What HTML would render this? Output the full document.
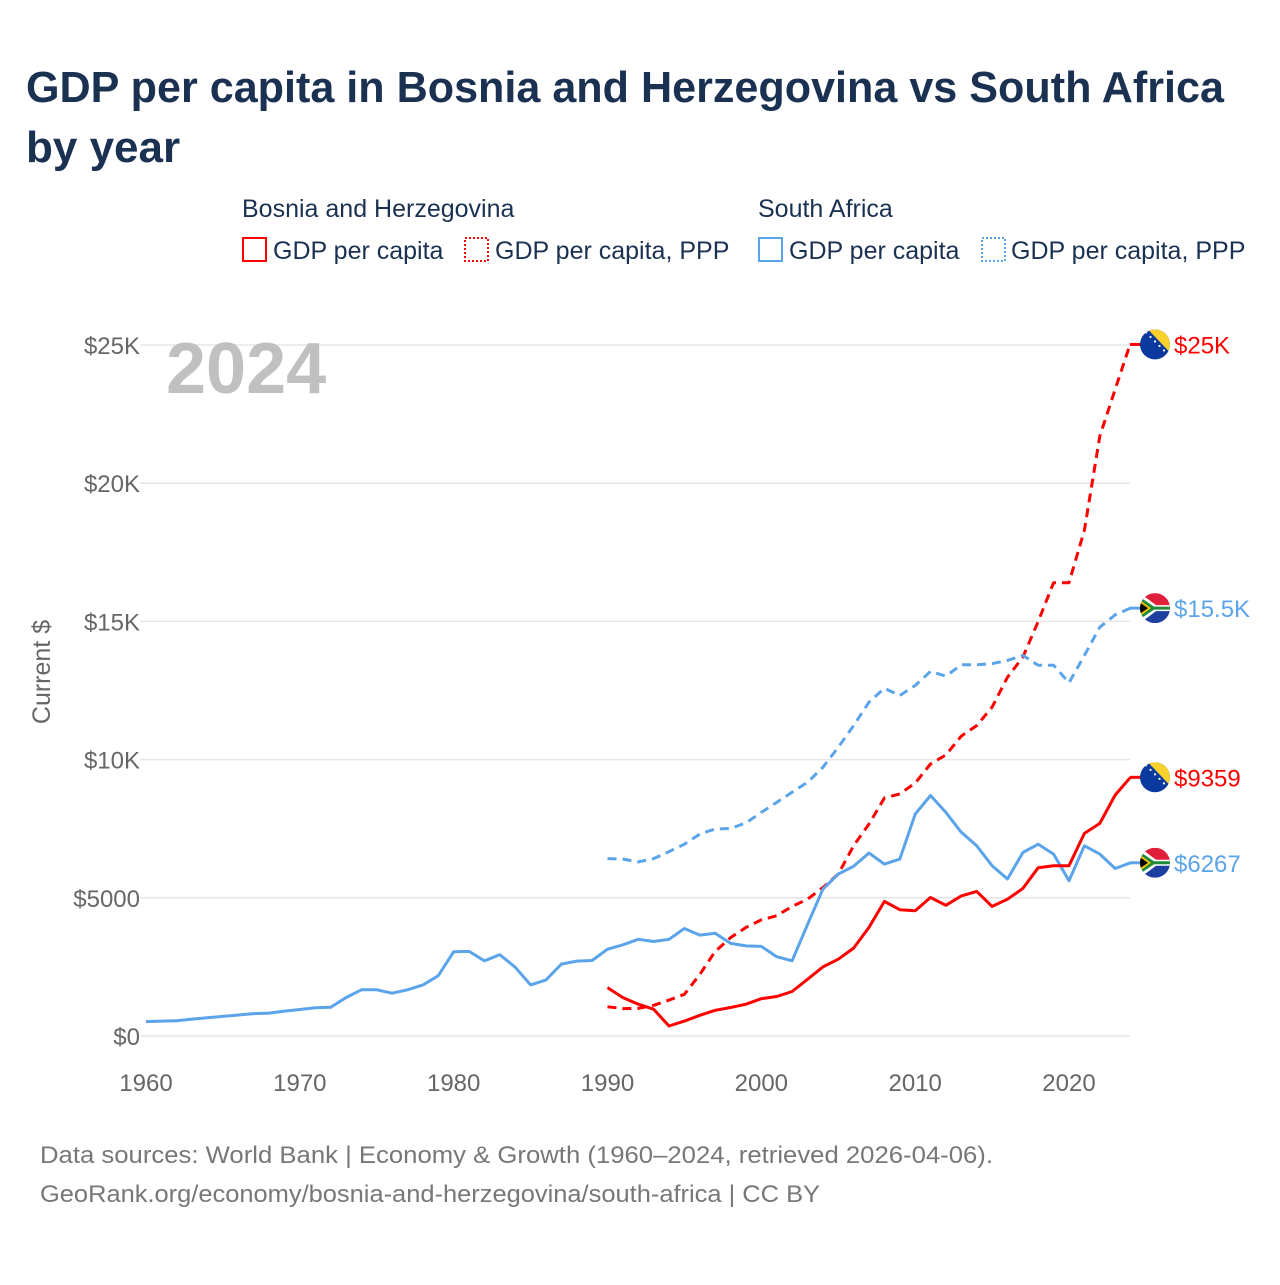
<!DOCTYPE html>
<html><head><meta charset="utf-8"><style>
body{margin:0;background:#fff;font-family:"Liberation Sans",sans-serif;}
svg text{font-family:"Liberation Sans",sans-serif;}
</style></head><body>
<svg id="chart" width="1280" height="1280" viewBox="0 0 1280 1280">
<text x="26" y="102" font-size="44" font-weight="bold" fill="#1b3152" textLength="1198" lengthAdjust="spacingAndGlyphs">GDP per capita in Bosnia and Herzegovina vs South Africa</text>
<text x="26" y="162" font-size="44" font-weight="bold" fill="#1b3152">by year</text>
<g font-size="25" fill="#1b3152">
<text x="242" y="217">Bosnia and Herzegovina</text>
<text x="758" y="217">South Africa</text>
<g><rect x="243" y="238" width="23" height="23" fill="none" stroke="#ff0000" stroke-width="2"/><text x="273" y="259">GDP per capita</text></g>
<g><rect x="465" y="238" width="23" height="23" fill="none" stroke="#ff0000" stroke-width="2" stroke-dasharray="2,2"/><text x="495" y="259">GDP per capita, PPP</text></g>
<g><rect x="759" y="238" width="23" height="23" fill="none" stroke="#5ba4ea" stroke-width="2"/><text x="789" y="259">GDP per capita</text></g>
<g><rect x="982" y="238" width="23" height="23" fill="none" stroke="#5ba4ea" stroke-width="2" stroke-dasharray="2,2"/><text x="1011" y="259">GDP per capita, PPP</text></g>
</g>
<g id="grid"></g>
<text x="166" y="393" font-size="72" font-weight="bold" fill="#c0c0c0">2024</text>
<text transform="translate(50,672) rotate(-90)" text-anchor="middle" font-size="25" fill="#666">Current $</text>
<g id="series"></g>
<g id="ends"></g>
<text x="40" y="1163" font-size="24" fill="#777" textLength="953" lengthAdjust="spacingAndGlyphs">Data sources: World Bank | Economy &amp; Growth (1960–2024, retrieved 2026-04-06).</text>
<text x="40" y="1202" font-size="24" fill="#777" textLength="780" lengthAdjust="spacingAndGlyphs">GeoRank.org/economy/bosnia-and-herzegovina/south-africa | CC BY</text>
</svg>
<script>
const yTicks=[0,5000,10000,15000,20000,25000];
const yTickLabels=["$0","$5000","$10K","$15K","$20K","$25K"];
const xTicks=[1960,1970,1980,1990,2000,2010,2020];
const zaYears=[];for(let y=1960;y<=2024;y++)zaYears.push(y);
const baYears=[];for(let y=1990;y<=2024;y++)baYears.push(y);
const zaGdp=[0.52,0.54,0.55,0.61,0.66,0.71,0.76,0.81,0.83,0.9,0.96,1.02,1.04,1.39,1.67,1.67,1.55,1.67,1.85,2.18,3.05,3.06,2.72,2.94,2.49,1.85,2.03,2.6,2.71,2.73,
3.14,3.3,3.5,3.42,3.5,3.89,3.65,3.72,3.35,3.26,3.24,2.87,2.72,4.03,5.31,5.86,6.14,6.62,6.22,6.4,8.03,8.7,8.09,7.37,6.88,6.16,5.68,6.64,6.94,6.58,5.62,6.88,6.58,6.06,6.267];
const zaPpp=[6.42,6.4,6.3,6.42,6.67,6.94,7.31,7.49,7.51,7.71,8.09,8.45,8.82,9.18,9.72,10.45,11.23,12.08,12.58,12.32,12.68,13.19,13.02,13.43,13.43,13.47,13.59,13.77,13.41,13.41,12.78,13.77,14.79,15.24,15.48];
const baGdp=[1.75,1.39,1.15,0.97,0.36,0.54,0.75,0.93,1.03,1.15,1.35,1.43,1.61,2.05,2.5,2.78,3.18,3.93,4.87,4.57,4.53,5.01,4.73,5.07,5.23,4.69,4.95,5.34,6.09,6.16,6.16,7.33,7.69,8.72,9.359];
const baPpp=[1.06,0.99,1.0,1.11,1.3,1.51,2.23,3.06,3.56,3.93,4.2,4.35,4.69,4.95,5.37,5.86,6.88,7.67,8.61,8.76,9.15,9.84,10.17,10.85,11.23,11.9,12.98,13.71,15.0,16.4,16.4,18.3,21.7,23.4,25.07];
const NS="http://www.w3.org/2000/svg";
const X=yr=>146+(yr-1960)*(1069-146)/60;
const Y=v=>1036-v*(1036-345)/25000;
function mk(t,a,p){const e=document.createElementNS(NS,t);for(const k in a)e.setAttribute(k,a[k]);p.appendChild(e);return e;}
const grid=document.getElementById('grid');
yTicks.forEach((v,i)=>{
 const l=mk('line',{x1:140,x2:1130,y1:Y(v),y2:Y(v),stroke:'#e6e6e6','stroke-width':1.5},grid);
 
 
 const t=mk('text',{x:140,y:Y(v)+9,'text-anchor':'end','font-size':24,fill:'#666'},grid);t.textContent=yTickLabels[i];
 
 
});
xTicks.forEach(yr=>{
 const t=mk('text',{x:X(yr),y:1091,'text-anchor':'middle','font-size':24,fill:'#666'},grid);t.textContent=yr;
 
 
});
const ser=document.getElementById('series');
function line(years,vals,color,dash,name){
 const d=years.map((y,i)=>(i?'L':'M')+X(y).toFixed(1)+','+Y(vals[i]*1000).toFixed(1)).join('');
 const p=mk('path',{d:d,fill:'none',stroke:color,'stroke-width':3,'stroke-linejoin':'round'},ser);
 if(dash)p.setAttribute('stroke-dasharray','9,6');
 
 
}
line(baYears,baPpp,'#ff0000',true,'line-bih-gdp-ppp');
line(zaYears.slice(30),zaPpp,'#5ba4ea',true,'line-za-gdp-ppp');
line(zaYears,zaGdp,'#5ba4ea',false,'line-za-gdp');
line(baYears,baGdp,'#ff0000',false,'line-bih-gdp');
const ends=document.getElementById('ends');
function end(v,label,color,flag,name){
 const cy=Y(v*1000),cx=1155;
 const g=mk('g',{},ends);
 
 
 mk('line',{x1:1130,x2:1142,y1:cy,y2:cy,stroke:color,'stroke-width':3},g);
 const cp='c'+name;
 const c=mk('clipPath',{id:cp},g);mk('circle',{cx:cx,cy:cy,r:15},c);
 const f=mk('g',{'clip-path':'url(#'+cp+')'},g);
 if(flag==='ba'){
  mk('rect',{x:cx-15,y:cy-15,width:30,height:30,fill:'#0a3a9e'},f);
  mk('polygon',{points:`${cx-7},${cy-15} ${cx+15},${cy-15} ${cx+15},${cy+8}`,fill:'#f9d12a'},f);
  for(let k=0;k<5;k++)mk('circle',{cx:cx-9+k*4.5,cy:cy-12+k*4.5,r:1.1,fill:'#fff'},f);
 }else{
  mk('rect',{x:cx-15,y:cy-15,width:30,height:15,fill:'#e0203a'},f);
  mk('rect',{x:cx-15,y:cy,width:30,height:15,fill:'#1d3fa0'},f);
  mk('polygon',{points:`${cx-15},${cy-15} ${cx+1},${cy-3} ${cx+15},${cy-3} ${cx+15},${cy+3} ${cx+1},${cy+3} ${cx-15},${cy+15}`,fill:'#fff'},f);
  mk('polygon',{points:`${cx-15},${cy-11} ${cx-1},${cy-1.5} ${cx+15},${cy-1.5} ${cx+15},${cy+1.5} ${cx-1},${cy+1.5} ${cx-15},${cy+11}`,fill:'#1e8a3a'},f);
  mk('polygon',{points:`${cx-15},${cy-8} ${cx-4},${cy} ${cx-15},${cy+8}`,fill:'#f5c400'},f);
  mk('polygon',{points:`${cx-15},${cy-5.5} ${cx-7},${cy} ${cx-15},${cy+5.5}`,fill:'#000'},f);
 }
 const t=mk('text',{x:1174,y:cy+9,'font-size':24,fill:color},g);t.textContent=label;
}
end(baPpp[baPpp.length-1]-0.05,'$25K','#ff0000','ba','end-label-bih-ppp');
end(zaPpp[zaPpp.length-1],'$15.5K','#5ba4ea','za','end-label-za-ppp');
end(baGdp[baGdp.length-1],'$9359','#ff0000','ba','end-label-bih-gdp');
end(zaGdp[zaGdp.length-1],'$6267','#5ba4ea','za','end-label-za-gdp');
</script>
</body></html>
